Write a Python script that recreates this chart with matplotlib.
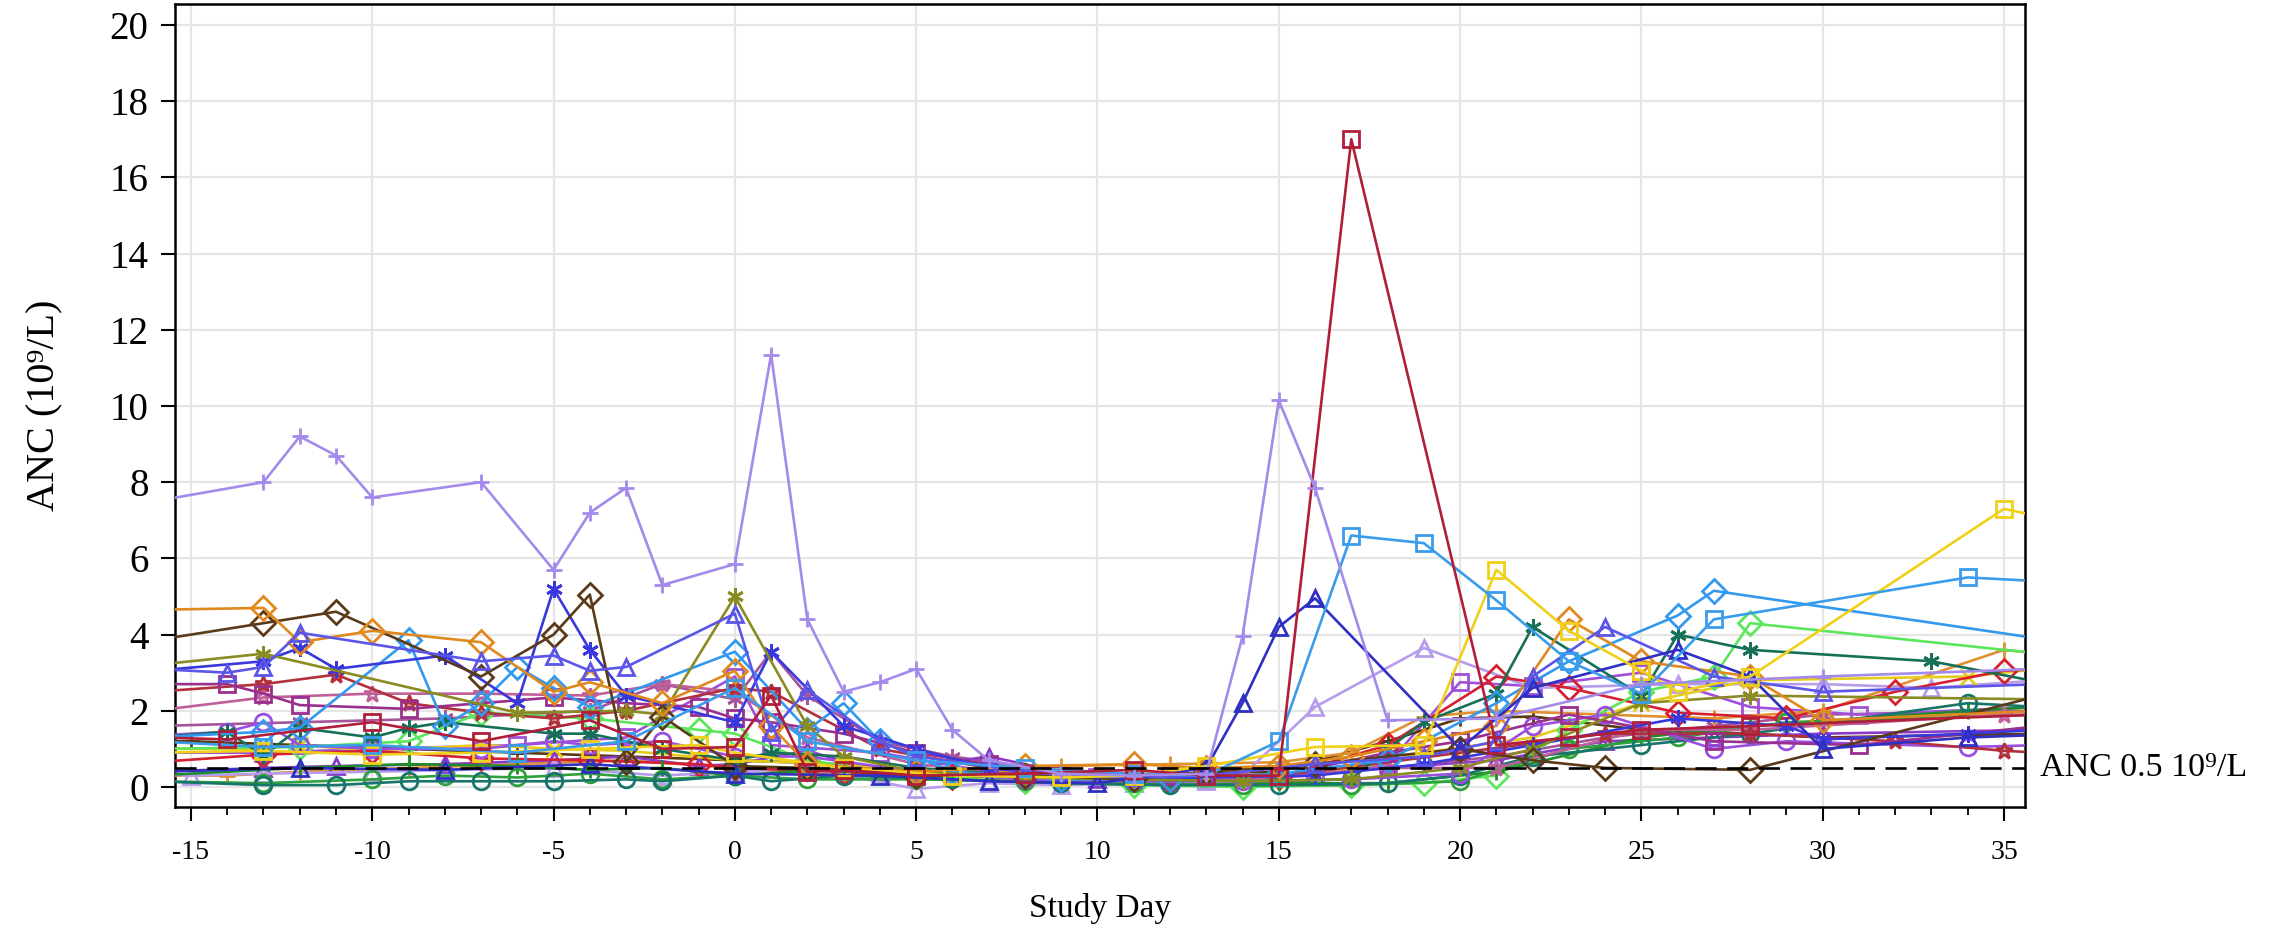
import matplotlib
matplotlib.use("Agg")
import matplotlib.pyplot as plt
from matplotlib.ticker import MultipleLocator

plt.rcParams['font.family'] = ['Liberation Serif', 'DejaVu Serif']
plt.rcParams['axes.unicode_minus'] = False

# per-subject ANC values (study day, ANC 10^9/L)
d01 = [-16, -13, -12, -11, -10, -7, -5, -4, -3, -2, 0, 1, 2, 3, 4, 5, 6, 7, 9, 11, 13, 14, 15, 16, 18, 21, 25, 30, 36]
v01 = [7.5, 8.0, 9.2, 8.7, 7.6, 8.0, 5.7, 7.2, 7.85, 5.3, 5.85, 11.35, 4.4, 2.5, 2.75, 3.1, 1.5, 0.7, 0.35, 0.3, 0.35, 3.95, 10.15, 7.85, 1.75, 1.8, 2.7, 2.9, 3.1]
d02 = [-16, -14, -10, -7, -4, -2, 0, 1, 2, 3, 5, 8, 11, 13, 15, 17, 21, 23, 25, 28, 36]
v02 = [1.3, 1.25, 1.7, 1.2, 1.75, 1.0, 1.05, 2.4, 0.4, 0.45, 0.3, 0.35, 0.45, 0.3, 0.3, 17.0, 1.1, 1.3, 1.5, 1.6, 1.9]
d03 = [-16, -13, -10, -6, -3, 0, 2, 5, 8, 11, 13, 15, 17, 19, 21, 23, 25, 27, 34, 37]
v03 = [1.2, 1.05, 1.1, 0.9, 1.2, 2.6, 1.2, 0.7, 0.5, 0.35, 0.3, 1.2, 6.6, 6.4, 4.9, 3.3, 2.45, 4.4, 5.5, 5.35]
d04 = [-16, -13, -10, -7, -4, -1, 0, 3, 6, 9, 11, 13, 16, 19, 21, 23, 25, 26, 28, 35, 36]
v04 = [0.9, 0.95, 0.85, 0.9, 1.0, 1.1, 0.9, 0.5, 0.3, 0.25, 0.3, 0.55, 1.05, 1.1, 5.7, 4.1, 3.05, 2.5, 2.9, 7.3, 7.1]
d05 = [-16, -12, -8, -4, 0, 4, 7, 10, 13, 14, 15, 16, 20, 22, 26, 28, 30, 34, 37]
v05 = [0.4, 0.5, 0.45, 0.6, 0.35, 0.3, 0.15, 0.1, 0.5, 2.2, 4.2, 4.95, 1.0, 2.6, 3.6, 2.9, 1.0, 1.3, 1.4]
d06 = [-16, -14, -13, -12, -7, -5, -4, -3, 0, 1, 2, 4, 5, 7, 9, 11, 13, 16, 19, 21, 22, 24, 27, 30, 36]
v06 = [3.1, 3.0, 3.15, 4.05, 3.3, 3.45, 3.05, 3.15, 4.55, 1.45, 2.55, 1.2, 0.8, 0.55, 0.3, 0.25, 0.3, 0.6, 0.8, 1.2, 2.9, 4.2, 2.9, 2.5, 2.7]
d07 = [-16, -13, -12, -10, -7, -5, -4, -2, 0, 1, 2, 5, 8, 11, 13, 15, 17, 19, 21, 23, 25, 28, 30, 36]
v07 = [4.65, 4.7, 3.8, 4.1, 3.8, 2.5, 2.75, 2.2, 3.05, 1.6, 0.6, 0.4, 0.55, 0.6, 0.5, 0.55, 0.8, 1.2, 1.6, 4.4, 3.3, 2.9, 1.75, 2.0]
d08 = [-16, -13, -11, -7, -5, -4, -3, -2, 0, 2, 5, 8, 11, 13, 16, 20, 22, 24, 28, 36]
v08 = [3.85, 4.3, 4.6, 2.9, 4.0, 5.05, 0.65, 1.85, 0.55, 0.5, 0.3, 0.3, 0.2, 0.4, 0.6, 1.0, 0.7, 0.5, 0.45, 2.4]
d09 = [-16, -13, -6, -3, -2, 0, 2, 3, 5, 8, 11, 14, 17, 20, 22, 25, 28, 36]
v09 = [3.2, 3.5, 1.95, 2.0, 1.9, 5.0, 1.6, 0.8, 0.4, 0.25, 0.2, 0.15, 0.2, 0.5, 1.0, 2.2, 2.4, 2.3]
d10 = [-16, -13, -12, -11, -8, -6, -5, -4, -3, 0, 1, 3, 5, 7, 9, 11, 13, 16, 19, 22, 26, 29, 30, 34, 36]
v10 = [3.05, 3.3, 3.65, 3.1, 3.45, 2.2, 5.2, 3.6, 2.4, 1.7, 3.55, 1.6, 1.0, 0.5, 0.3, 0.2, 0.25, 0.3, 0.6, 1.1, 1.8, 1.6, 1.25, 1.4, 1.5]
d11 = [-16, -13, -12, -9, -8, -7, -6, -5, -4, 0, 2, 3, 4, 6, 9, 12, 15, 18, 21, 23, 26, 27, 37]
v11 = [1.3, 1.45, 1.55, 3.85, 1.6, 2.2, 3.15, 2.6, 2.1, 3.55, 1.5, 2.2, 1.2, 0.4, 0.2, 0.2, 0.35, 0.7, 2.2, 3.3, 4.5, 5.15, 3.75]
d12 = [-16, -14, -13, -12, -9, -5, -3, -1, 0, 1, 3, 5, 7, 9, 12, 15, 18, 20, 23, 27, 31, 36]
v12 = [2.7, 2.7, 2.45, 2.15, 2.05, 2.35, 2.2, 2.1, 1.8, 1.7, 1.4, 0.9, 0.6, 0.3, 0.3, 0.3, 0.9, 1.2, 1.9, 1.2, 1.1, 1.6]
d13 = [-16, -14, -13, -12, -10, -9, -8, -5, -4, -2, 0, 1, 3, 5, 8, 11, 14, 17, 18, 19, 21, 22, 25, 26, 28, 33, 36]
v13 = [1.3, 1.45, 0.82, 1.55, 1.3, 1.55, 1.7, 1.4, 1.4, 1.0, 0.7, 0.9, 0.8, 0.5, 0.3, 0.2, 0.15, 0.2, 1.0, 1.7, 2.45, 4.2, 2.4, 4.0, 3.6, 3.3, 2.75]
d14 = [-16, -13, -11, -9, -7, -5, -3, 0, 1, 4, 7, 10, 13, 16, 20, 24, 28, 32, 35, 36]
v14 = [2.5, 2.7, 2.95, 2.2, 1.95, 1.8, 2.0, 2.6, 2.5, 1.0, 0.5, 0.3, 0.25, 0.4, 0.9, 1.4, 1.4, 1.2, 0.95, 0.9]
d15 = [-16, -13, -10, -7, -4, -2, 0, 2, 5, 8, 11, 14, 18, 21, 25, 28, 35, 36]
v15 = [2.0, 2.35, 2.45, 2.45, 2.4, 2.7, 2.5, 1.3, 0.6, 0.3, 0.2, 0.2, 0.5, 0.5, 1.5, 1.5, 1.9, 1.9]
d16 = [-16, -14, -13, -12, -10, -7, -5, -4, -2, 0, 2, 5, 8, 11, 14, 17, 20, 22, 24, 27, 29, 34, 36]
v16 = [1.35, 1.45, 1.7, 1.1, 1.0, 1.0, 1.2, 1.1, 1.2, 0.8, 0.8, 0.4, 0.2, 0.15, 0.15, 0.2, 0.35, 1.6, 1.9, 1.0, 1.2, 1.05, 1.1]
d17 = [-16, -13, -11, -9, -7, -5, -3, -2, 0, 1, 3, 6, 9, 12, 15, 18, 20, 22, 25, 28, 34, 36]
v17 = [0.15, 0.05, 0.05, 0.15, 0.15, 0.15, 0.2, 0.15, 0.3, 0.15, 0.3, 0.2, 0.1, 0.05, 0.05, 0.1, 0.3, 0.8, 1.1, 1.4, 2.2, 2.1]
d18 = [-16, -13, -10, -8, -6, -4, -2, 0, 2, 5, 8, 11, 14, 17, 20, 23, 26, 29, 36]
v18 = [0.15, 0.1, 0.2, 0.3, 0.25, 0.35, 0.2, 0.3, 0.2, 0.2, 0.15, 0.1, 0.05, 0.05, 0.15, 1.0, 1.3, 1.7, 1.9]
d19 = [-16, -12, -9, -6, -4, -2, 0, 3, 6, 9, 12, 15, 18, 21, 25, 28, 34, 36]
v19 = [0.3, 0.5, 0.6, 0.55, 0.45, 0.5, 0.3, 0.5, 0.2, 0.1, 0.05, 0.1, 0.1, 0.4, 1.3, 1.6, 2.0, 2.1]
d20 = [-16, -12, -9, -7, -4, -1, 0, 2, 5, 8, 11, 14, 17, 19, 21, 23, 25, 27, 28, 36]
v20 = [1.0, 1.05, 1.2, 1.95, 1.8, 1.5, 1.4, 0.7, 0.3, 0.15, 0.05, 0.0, 0.05, 0.1, 0.3, 1.5, 2.5, 2.9, 4.3, 3.5]
d21 = [-16, -13, -10, -7, -4, -1, 0, 3, 6, 9, 12, 15, 18, 21, 23, 26, 29, 32, 35, 36]
v21 = [0.65, 0.85, 0.95, 0.75, 0.7, 0.6, 0.5, 0.4, 0.25, 0.2, 0.15, 0.25, 1.1, 2.9, 2.6, 1.95, 1.8, 2.5, 3.05, 3.1]
d22 = [-16, -13, -12, -10, -7, -5, -3, 0, 3, 6, 9, 12, 14, 17, 19, 22, 25, 28, 34, 36]
v22 = [1.0, 1.0, 1.1, 0.95, 1.1, 1.0, 0.95, 0.7, 0.6, 0.35, 0.25, 0.3, 0.3, 0.45, 0.9, 1.3, 2.2, 2.8, 2.9, 3.1]
d23 = [-16, -15, -13, -10, -5, -2, 0, 2, 5, 7, 9, 11, 13, 14, 16, 19, 22, 26, 30, 33, 36]
v23 = [0.35, 0.3, 0.35, 0.4, 0.5, 0.3, 0.4, 0.5, -0.05, 0.1, 0.05, 0.1, 0.15, 0.3, 2.1, 3.65, 2.6, 2.7, 2.7, 2.6, 2.8]
d24 = [-16, -13, -11, -8, -5, -3, -1, 0, 2, 4, 7, 10, 12, 15, 18, 21, 24, 27, 30, 36]
v24 = [0.4, 0.5, 0.55, 0.6, 0.7, 0.8, 0.55, 0.6, 0.95, 0.4, 0.8, 0.2, 0.2, 0.3, 0.5, 0.7, 1.2, 1.3, 1.4, 1.5]
d25 = [-16, -14, -12, -9, -6, -3, 0, 3, 6, 9, 12, 15, 17, 19, 21, 24, 27, 30, 35, 36]
v25 = [0.3, 0.3, 0.4, 0.5, 0.6, 0.7, 0.5, 0.3, 0.3, 0.55, 0.6, 0.65, 0.9, 1.85, 2.0, 1.9, 1.8, 2.0, 3.6, 3.5]
d26 = [-16, -15, -12, -9, -6, -3, 0, 3, 6, 9, 12, 15, 18, 20, 22, 25, 28, 30, 36]
v26 = [1.2, 1.2, 1.1, 1.0, 0.9, 0.8, 0.7, 0.6, 0.3, 0.3, 0.35, 0.4, 1.2, 1.8, 1.85, 1.5, 1.4, 1.3, 1.4]
d27 = [-16, -13, -10, -6, -3, 0, 1, 4, 7, 10, 13, 16, 18, 20, 22, 25, 28, 31, 36]
v27 = [0.9, 0.9, 1.0, 1.1, 1.3, 2.9, 1.1, 0.9, 0.4, 0.25, 0.2, 0.3, 0.6, 2.75, 2.65, 3.0, 2.1, 1.9, 2.1]
d28 = [-16, -12, -8, -4, -2, 0, 1, 2, 4, 6, 9, 12, 15, 18, 21, 24, 27, 30, 36]
v28 = [1.6, 1.7, 1.8, 2.0, 2.7, 2.3, 3.55, 2.4, 1.2, 0.8, 0.4, 0.3, 0.25, 0.5, 0.8, 1.3, 1.6, 1.9, 2.0]

days = [d01, d02, d03, d04, d05, d06, d07, d08, d09, d10, d11, d12, d13, d14,
        d15, d16, d17, d18, d19, d20, d21, d22, d23, d24, d25, d26, d27, d28]
vals = [v01, v02, v03, v04, v05, v06, v07, v08, v09, v10, v11, v12, v13, v14,
        v15, v16, v17, v18, v19, v20, v21, v22, v23, v24, v25, v26, v27, v28]

ast = (6, 2, 0)
colors = ['#A48AEA', '#B01E3A', '#3B9CEB', '#F0D018', '#2F2FC2', '#5B55E8', '#E0891E',
          '#5A3A18', '#8A8B22', '#3838DC', '#3399EE', '#9A2F8E', '#167058', '#B0303C',
          '#C0609A', '#9B4FE0', '#17756A', '#2EA03C', '#1E8C2A', '#5CE65C', '#D42030',
          '#E6CC1A', '#B79CEC', '#8A3AC8', '#E09030', '#5A3A10', '#A050D8', '#A55598']
markers = ['+', 's', 's', 's', '^', '^', 'D', 'D', ast, ast, 'D', 's', ast, '*',
           '*', 'o', 'o', 'o', '+', 'D', 'D', 'x', '^', '^', '+', '+', 's', ast]

fig = plt.figure(figsize=(22.72, 9.31), dpi=100)
ax = fig.add_axes([175 / 2272, 1 - 807 / 931, 1850 / 2272, 803 / 931])

# draw low series first so the highlighted peaks sit on top
order = list(range(len(days)))[::-1]
for i in order:
    ax.plot(days[i], vals[i], color=colors[i], marker=markers[i], lw=1.9,
            ms=12, mew=2.0, mfc='none', mec=colors[i], zorder=3)

ax.axhline(0.5, color='black', lw=1.9, dashes=(8, 4), zorder=4)
ax.text(35.58 + 0.4, 0.5, 'ANC 0.5 10⁹/L', fontsize=24.5, va='center', ha='left')

ax.set_xlim(-15.44, 35.58)
ax.set_ylim(-0.525, 20.55)
ax.xaxis.set_major_locator(MultipleLocator(5))
ax.xaxis.set_minor_locator(MultipleLocator(1))
ax.yaxis.set_major_locator(MultipleLocator(2))
ax.grid(True, which='major', color='#E6E6E6', lw=1.6)
ax.set_axisbelow(True)
for s in ax.spines.values():
    s.set_linewidth(1.8)
ax.tick_params(which='major', length=10, width=1.5)
ax.tick_params(which='minor', length=5.5, width=1.3)
ax.tick_params(axis='y', which='major', labelsize=28, pad=9)
ax.tick_params(axis='x', which='major', labelsize=20, pad=14)

ax.set_xlabel('Study Day', fontsize=24, labelpad=20)
ax.set_ylabel('ANC (10⁹/L)', fontsize=29, labelpad=33)

fig.savefig('out.png', dpi=100)
